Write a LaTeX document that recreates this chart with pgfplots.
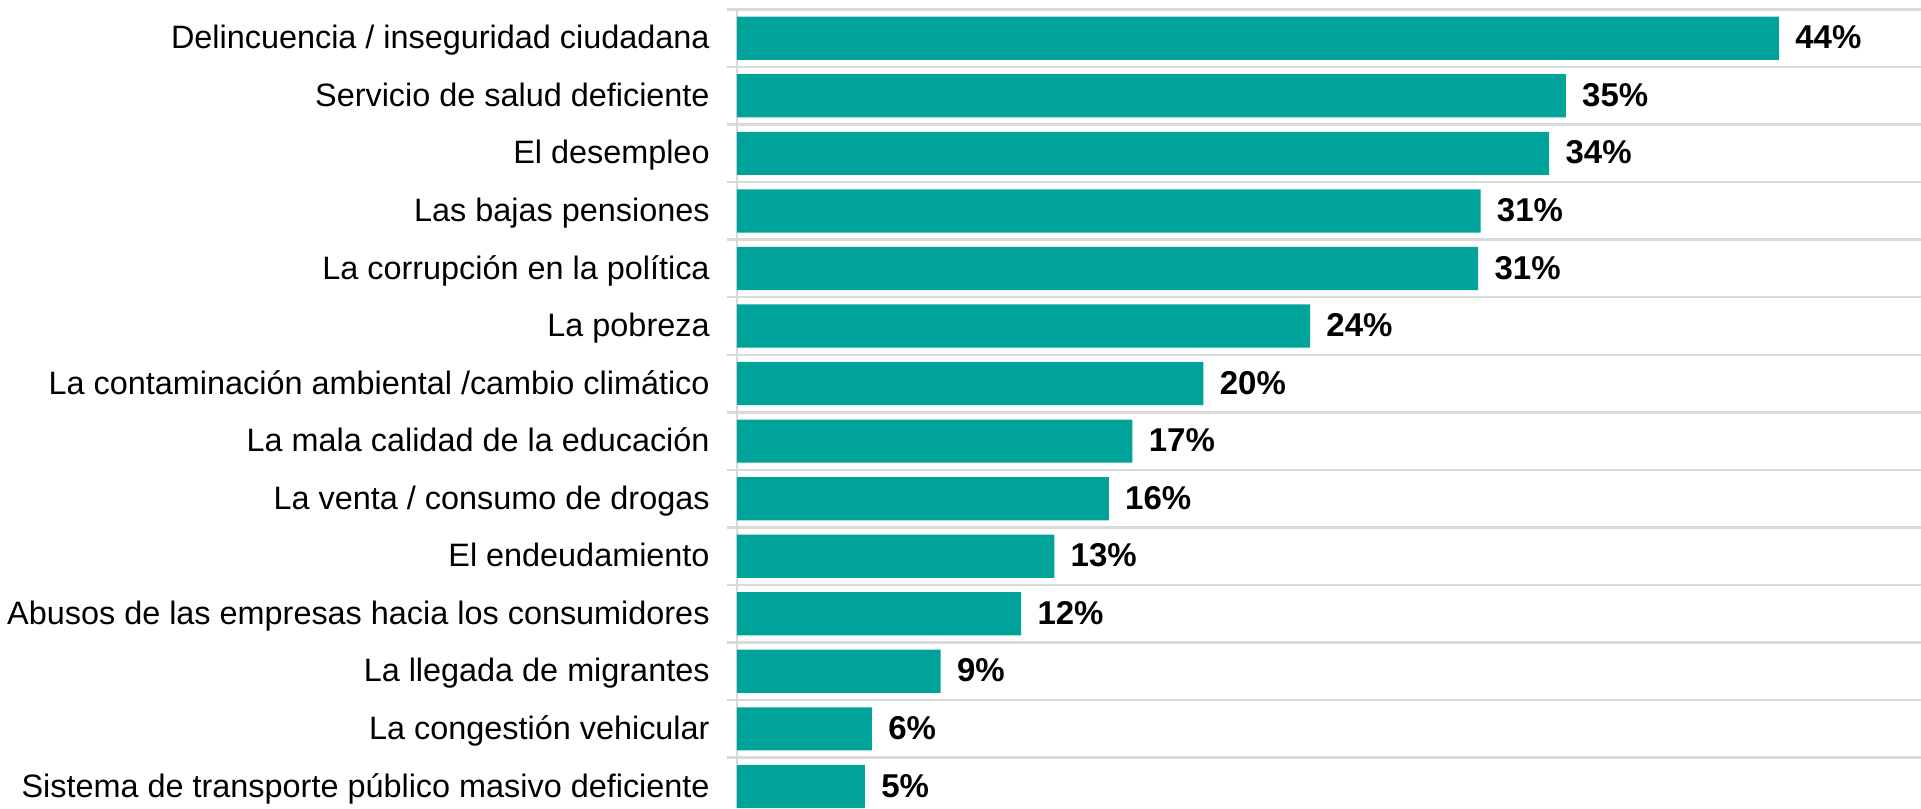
\documentclass[border=0pt]{standalone}
\usepackage{pgfplots}
\pgfplotsset{compat=1.18}
\usepackage{fontspec}
\setmainfont{Liberation Sans}
\definecolor{barteal}{RGB}{0,163,154}
\definecolor{gridgray}{RGB}{217,217,217}

\begin{document}
\begin{tikzpicture}
    \begin{axis}[
        scale only axis,
        width  = 592pt,
        height = 399.25pt,
        xbar,
        bar shift = 0pt,
        bar width = 0.75,
        y dir = reverse,
        xmin = 0, xmax = 50,
        ymin = -0.5, ymax = 13.375,
        axis x line = none,
        axis y line* = left,
        y axis line style = {draw=gridgray, line width=1pt, -},
        ytick = {0,...,13},
        minor ytick = {-0.5,0.5,...,12.5},
        minor y grid style = {draw=gridgray, line width=1.2pt},
        yminorgrids = true,
        major tick length = 0pt,
        minor tick length = 5pt,
        tick align = outside,
        minor tick style = {draw=gridgray, line width=1.2pt},
        yticklabels = {
            {Delincuencia / inseguridad ciudadana},
            {Servicio de salud deficiente},
            {El desempleo},
            {Las bajas pensiones},
            {La corrupción en la política},
            {La pobreza},
            {La contaminación ambiental /cambio climático},
            {La mala calidad de la educación},
            {La venta / consumo de drogas},
            {El endeudamiento},
            {Abusos de las empresas hacia los consumidores},
            {La llegada de migrantes},
            {La congestión vehicular},
            {Sistema de transporte público masivo deficiente}
        },
        y tick label style = {
            font=\fontsize{16.2pt}{19pt}\selectfont,
            anchor=east, inner sep=0pt, xshift=-13.5pt,
            text height=12pt, text depth=1.4pt
        },
        nodes near coords = {\pgfmathprintnumber[fixed,precision=0,assume math mode=true]{\pgfplotspointmeta}\%},
        every node near coord/.append style = {
            font=\fontsize{16.5pt}{19pt}\selectfont\bfseries,
            anchor=west, inner sep=0pt, xshift=8pt,
            text height=12pt, text depth=1.4pt, black
        },
        clip = false
    ]
        \addplot[draw=none, fill=barteal]
            coordinates {
                (44.0,0)
                (35.0,1)
                (34.3,2)
                (31.4,3)
                (31.3,4)
                (24.2,5)
                (19.7,6)
                (16.7,7)
                (15.7,8)
                (13.4,9)
                (12.0,10)
                (8.6,11)
                (5.7,12)
                (5.4,13)
        };
    \end{axis}
    \pgfresetboundingbox
    \useasboundingbox ([xshift=-368.5pt]current axis.south west) rectangle ([yshift=4.75pt]current axis.north east);
\end{tikzpicture}
\end{document}
